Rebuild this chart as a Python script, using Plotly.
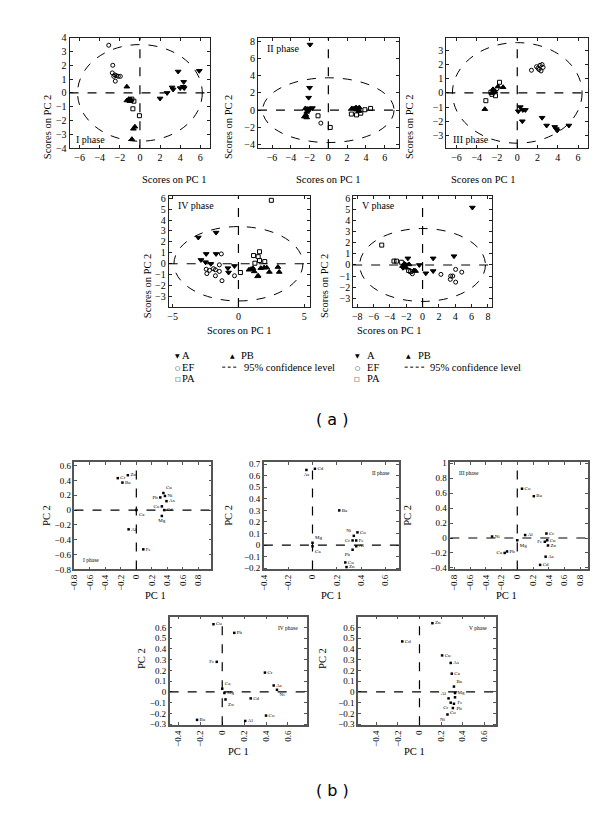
import plotly.graph_objects as go

W, H = 600, 814
SERIF = "Liberation Serif, Times New Roman, DejaVu Serif, serif"

# ---------------- (a) PCA scores per phase: (PC1, PC2) ----------------
ph1_A = [(5.9, 1.6), (3.8, 1.55), (4.35, 0.8), (3.2, 0.4), (3.3, 0.25), (2.7, 0.0),
         (2.0, -0.4), (4.0, 0.35), (4.3, 0.45), (4.4, 0.35)]
ph1_EF = [(-3.1, 3.45), (-2.7, 2.0), (-2.75, 1.45), (-2.6, 1.2), (-2.35, 1.25), (-2.15, 1.2),
          (-1.95, 1.2), (-2.45, 0.85), (-2.5, 1.3)]
ph1_PA = [(-0.7, -1.15), (-0.05, -1.65), (-0.8, -0.45), (-0.6, -0.6), (-1.0, -0.5)]
ph1_PB = [(-1.3, 0.45), (-1.3, -0.55), (-1.1, -0.45), (-0.9, -0.5), (-1.0, -0.6),
          (-0.5, -2.45), (-0.65, -2.6), (-0.8, -3.35)]

ph2_A = [(-1.95, 7.6), (-2.0, 2.6), (-2.1, 1.45), (-1.7, 0.25), (-2.1, 0.2), (-2.0, 0.05)]
ph2_EF = [(-0.8, -1.5)]
ph2_PA = [(-1.1, -0.65), (0.2, -2.0), (2.45, -0.45), (3.0, -0.55), (3.45, -0.35),
          (3.9, 0.05), (4.5, 0.2), (3.25, 0.0)]
ph2_PB = [(-2.45, 0.2), (-2.3, -0.2), (-2.4, -0.55), (-2.55, -0.75), (-2.3, -0.85), (-2.2, 0.1),
          (2.5, 0.2), (2.75, 0.2), (2.95, 0.3), (3.1, 0.2), (3.3, 0.3), (3.0, 0.05), (3.25, -0.1)]

ph3_A = [(0.1, -1.3), (0.3, -1.0), (0.55, -1.2), (0.8, -1.2), (0.5, -2.0), (2.45, -1.75),
         (2.9, -2.3), (3.7, -2.4), (3.85, -2.55), (3.95, -2.65), (5.1, -2.3)]
ph3_EF = [(1.4, 1.6), (1.9, 1.85), (2.05, 1.75), (2.25, 1.95), (2.45, 2.0), (2.55, 1.8),
          (2.35, 1.55), (2.15, 1.65), (-2.0, 0.3)]
ph3_PA = [(-1.75, 0.75), (-3.1, -0.55), (-2.5, -0.1), (-2.3, 0.1), (-2.15, -0.2), (-2.6, 0.05)]
ph3_PB = [(-3.2, -1.15), (-1.9, 0.45), (-1.4, 0.4), (-2.4, 0.25), (-2.5, 0.0), (-2.2, 0.1)]

ph4_A = [(-3.05, 2.4), (-1.7, 2.85), (-2.45, 0.9), (-1.7, 0.9), (-2.85, 0.35), (-2.5, 0.15),
         (-2.1, 0.0), (-0.8, -0.4), (-0.75, -0.8), (-0.3, -0.2)]
ph4_EF = [(-1.3, 0.9), (-2.45, -0.5), (-2.4, -0.9), (-1.9, -0.45), (-1.75, -0.55), (-1.45, -0.1),
          (-1.45, -0.7), (-1.75, -1.1), (-1.25, -1.55), (-0.3, -1.1), (-2.2, -0.6)]
ph4_PA = [(0.15, -0.8), (1.15, 0.75), (1.6, 1.1), (1.5, 0.65), (1.6, 0.3), (2.0, 0.2),
          (1.25, 0.05), (2.5, 5.8)]
ph4_PB = [(0.8, -0.55), (0.95, -0.5), (1.1, -0.4), (1.2, -0.7), (1.5, -1.1), (1.45, -1.15),
          (1.95, -0.35), (2.15, -0.35), (2.35, -0.75), (3.0, -0.3), (3.1, -0.75), (1.7, -0.4)]

ph5_A = [(6.1, 5.2), (-1.8, 0.6), (1.3, 0.6), (3.85, 0.8), (-2.0, 0.05), (-2.3, -0.1),
         (-2.4, -0.25), (-0.4, 0.0), (0.4, -0.75), (1.3, -0.55)]
ph5_EF = [(2.25, -0.85), (3.45, -1.0), (3.7, -1.0), (3.4, -1.3), (4.05, -0.4), (4.05, -1.55),
          (4.8, -0.65), (-1.25, -0.8)]
ph5_PA = [(-5.0, 1.8), (-3.5, 0.35), (-3.2, 0.35), (-2.6, 0.25), (-1.7, -0.5), (-1.45, -0.6)]
ph5_PB = [(-1.65, 0.05), (-2.45, -0.1), (-2.0, -0.25), (-1.05, -0.5), (-0.85, -0.55), (-2.2, 0.1)]

# 95% confidence ellipse half-axes (PC1, PC2)
ellipse_axes = [(6.2, 3.5), (7.0, 3.75), (6.4, 3.55), (4.9, 3.4), (7.7, 3.3)]

# ---------------- (b) loadings: (element, PC1, PC2, label side) ----------------
load1 = [("Zn", -0.11, 0.47, "middle right"), ("Cr", -0.24, 0.43, "middle right"),
         ("Ba", -0.18, 0.37, "middle right"), ("Cu", 0.35, 0.23, "top right"),
         ("Pb", 0.31, 0.17, "middle left"), ("Ni", 0.37, 0.19, "middle right"),
         ("As", 0.39, 0.12, "middle right"), ("Co", 0.33, 0.05, "middle left"),
         ("Cd", 0.36, 0.0, "middle right"), ("Ca", 0.0, 0.0, "bottom right"),
         ("Mg", 0.33, -0.08, "bottom center"), ("Al", -0.1, -0.26, "middle right"),
         ("Fe", 0.09, -0.53, "middle right")]
load2 = [("As", -0.05, 0.65, "bottom center"), ("Cd", 0.02, 0.66, "middle right"),
         ("Ba", 0.22, 0.3, "middle right"), ("Co", 0.37, 0.11, "middle right"),
         ("Ni", 0.34, 0.08, "top left"), ("Cr", 0.33, 0.04, "middle left"),
         ("Fe", 0.36, 0.04, "middle right"), ("Al", 0.36, -0.01, "middle right"),
         ("Pb", 0.33, -0.04, "bottom left"), ("Mg", 0.0, 0.02, "top right"),
         ("Ca", 0.0, -0.01, "bottom right"), ("Cu", 0.27, -0.15, "middle right"),
         ("Zn", 0.28, -0.19, "middle right")]
load3 = [("Co", 0.06, 0.66, "middle right"), ("Ba", 0.21, 0.56, "middle right"),
         ("Ni", -0.32, 0.02, "middle right"), ("Al", 0.1, 0.04, "middle right"),
         ("Cr", 0.37, 0.06, "middle right"), ("Fe", 0.35, -0.05, "middle left"),
         ("Cu", 0.38, -0.03, "middle right"), ("Zn", 0.39, -0.1, "middle right"),
         ("As", 0.36, -0.25, "middle right"), ("Cd", 0.29, -0.36, "middle right"),
         ("Mg", 0.0, -0.03, "bottom right"), ("Ca", -0.16, -0.2, "middle left"),
         ("Pb", -0.13, -0.18, "middle right")]
load4 = [("Cu", -0.08, 0.63, "middle right"), ("Pb", 0.11, 0.55, "middle right"),
         ("Fe", -0.05, 0.28, "middle left"), ("Cr", 0.39, 0.18, "middle right"),
         ("As", 0.47, 0.06, "middle right"), ("Ni", 0.5, 0.02, "bottom right"),
         ("Ca", 0.0, 0.03, "top right"), ("Mg", 0.02, -0.01, "middle right"),
         ("Zn", 0.03, -0.07, "bottom right"), ("Cd", 0.26, -0.06, "middle right"),
         ("Ba", -0.23, -0.26, "middle right"), ("Al", 0.21, -0.27, "middle right"),
         ("Co", 0.4, -0.22, "middle right")]
load5 = [("Zn", 0.12, 0.64, "middle right"), ("Cd", -0.16, 0.47, "middle right"),
         ("Cu", 0.21, 0.34, "middle right"), ("As", 0.29, 0.27, "middle right"),
         ("Ca", 0.3, 0.17, "middle right"), ("Ba", 0.32, 0.05, "top right"),
         ("Mg", 0.33, -0.01, "middle right"), ("Fe", 0.33, -0.05, "bottom right"),
         ("Al", 0.27, -0.06, "top left"), ("Cr", 0.29, -0.1, "bottom left"),
         ("Pb", 0.32, -0.11, "bottom right"), ("Co", 0.31, -0.15, "bottom center"),
         ("Ni", 0.26, -0.21, "bottom left")]

phase_names = ["I phase", "II phase", "III phase", "IV phase", "V phase"]

# axis ranges / ticks
a_xrange = [[-7, 7], [-7.5, 7.5], [-7, 7], [-5.3, 5.4], [-8.5, 8.5]]
a_yrange = [[-4, 4], [-4.4, 8.4], [-3.9, 3.9], [-3.95, 6.15], [-3.8, 6.2]]
a_xticks = [list(range(-6, 7, 2))] * 3 + [[-5, 0, 5], list(range(-8, 9, 2))]
a_yticks = [list(range(-4, 5)), list(range(-4, 9, 2)), list(range(-3, 4)),
            list(range(-3, 7)), list(range(-3, 7))]

b_xrange = [[-0.8, 0.97], [-0.4, 0.71], [-0.85, 0.9], [-0.48, 0.77], [-0.57, 0.71]]
b_yrange = [[-0.8, 0.65], [-0.21, 0.72], [-0.42, 1.02], [-0.31, 0.7], [-0.31, 0.7]]
b_xticks = [[-0.8, -0.6, -0.4, -0.2, 0, 0.2, 0.4, 0.6, 0.8],
            [-0.4, -0.2, 0, 0.2, 0.4, 0.6],
            [-0.8, -0.6, -0.4, -0.2, 0, 0.2, 0.4, 0.6, 0.8],
            [-0.4, -0.2, 0, 0.2, 0.4, 0.6],
            [-0.4, -0.2, 0, 0.2, 0.4, 0.6]]
b_yticks = [[-0.8, -0.6, -0.4, -0.2, 0, 0.2, 0.4, 0.6],
            [-0.2, -0.1, 0, 0.1, 0.2, 0.3, 0.4, 0.5, 0.6, 0.7],
            [-0.4, -0.2, 0, 0.2, 0.4, 0.6, 0.8, 1],
            [-0.3, -0.2, -0.1, 0, 0.1, 0.2, 0.3, 0.4, 0.5, 0.6],
            [-0.3, -0.2, -0.1, 0, 0.1, 0.2, 0.3, 0.4, 0.5, 0.6]]

# pixel boxes of the plot areas (left, top, right, bottom)
a_boxes = [(57, 25, 199, 137), (247, 25, 389, 137), (437, 25, 580, 137),
           (157, 186, 299, 298), (343, 186, 483, 298)]
b_boxes = [(62, 455, 200, 564), (253, 455, 389, 564), (441, 455, 580, 564),
           (158, 612, 296, 722), (348, 612, 487, 722)]
a_phase_pos = [(0.03, 0.08), (0.05, 0.9), (0.03, 0.08), (0.05, 0.92), (0.05, 0.92)]
b_phase_pos = [(0.05, 0.09, "left"), (0.95, 0.9, "right"), (0.05, 0.9, "left"),
               (0.95, 0.9, "right"), (0.95, 0.9, "right")]

scores = [(ph1_A, ph1_EF, ph1_PA, ph1_PB), (ph2_A, ph2_EF, ph2_PA, ph2_PB),
          (ph3_A, ph3_EF, ph3_PA, ph3_PB), (ph4_A, ph4_EF, ph4_PA, ph4_PB),
          (ph5_A, ph5_EF, ph5_PA, ph5_PB)]
loadings = [load1, load2, load3, load4, load5]
group_symbols = ["triangle-down", "circle-open", "square-open", "triangle-up"]
group_sizes = [5, 4, 4, 5]


def fmt(v):
    s = "%g" % round(abs(v), 2)
    return ("\u2212" + s) if v < 0 else s


def px_x(p):
    return p / W


def px_y(p):
    return 1 - p / H


fig = go.Figure()
layout = dict(width=W, height=H, margin=dict(l=0, r=0, t=0, b=0),
              paper_bgcolor="white", plot_bgcolor="white", showlegend=False,
              font=dict(family=SERIF, color="black"))
shapes, annotations = [], []


def add_axes(n, box, xr, yr, xt, yt, fsize, xangle, lcolor, lwidth):
    l, t, r, b = box
    sx = "" if n == 1 else str(n)
    common = dict(showgrid=False, zeroline=False, showline=True, mirror="ticks",
                  linecolor=lcolor, linewidth=lwidth, ticks="inside", ticklen=3,
                  tickcolor=lcolor, tickfont=dict(family=SERIF, size=fsize, color="black"))
    layout["xaxis" + sx] = dict(domain=[px_x(l), px_x(r)], range=xr, anchor="y" + sx,
                                tickvals=xt, ticktext=[fmt(v) for v in xt],
                                tickangle=xangle, **common)
    layout["yaxis" + sx] = dict(domain=[px_y(b), px_y(t)], range=yr, anchor="x" + sx,
                                tickvals=yt, ticktext=[fmt(v) for v in yt], **common)
    # dashed zero lines
    shapes.append(dict(type="line", xref="x" + sx, yref="y" + sx + " domain",
                       x0=0, x1=0, y0=0, y1=1, line=dict(color="black", width=1.2, dash="dash")))
    shapes.append(dict(type="line", xref="x" + sx + " domain", yref="y" + sx,
                       x0=0, x1=1, y0=0, y1=0, line=dict(color="black", width=1.2, dash="dash")))
    return sx


# ---- (a) panels ----
for i in range(5):
    n = i + 1
    sx = add_axes(n, a_boxes[i], a_xrange[i], a_yrange[i], a_xticks[i], a_yticks[i],
                  10, 0, "#222", 1)
    for g, pts in enumerate(scores[i]):
        fig.add_trace(go.Scatter(
            x=[p[0] for p in pts], y=[p[1] for p in pts], mode="markers",
            xaxis="x" + sx, yaxis="y" + sx,
            marker=dict(symbol=group_symbols[g], size=group_sizes[g], color="black",
                        line=dict(color="black", width=1))))
    ea, eb = ellipse_axes[i]
    shapes.append(dict(type="circle", xref="x" + sx, yref="y" + sx,
                       x0=-ea, x1=ea, y0=-eb, y1=eb,
                       line=dict(color="black", width=1, dash="dash")))
    px_, py_ = a_phase_pos[i]
    annotations.append(dict(text=phase_names[i], xref="x" + sx + " domain",
                            yref="y" + sx + " domain", x=px_, y=py_, xanchor="left",
                            yanchor="middle", showarrow=False,
                            font=dict(family=SERIF, size=10)))
    l, t, r, b = a_boxes[i]
    annotations.append(dict(text="Scores on PC 1", xref="paper", yref="paper",
                            x=px_x((l + r) / 2), y=px_y(b + 24), showarrow=False,
                            font=dict(family=SERIF, size=10.5)))
    annotations.append(dict(text="Scores on PC 2", xref="paper", yref="paper",
                            x=px_x(l - 29), y=px_y((t + b) / 2), textangle=-90,
                            showarrow=False, font=dict(family=SERIF, size=10.5)))

# ---- (b) panels ----
for i in range(5):
    n = i + 6
    sx = add_axes(n, b_boxes[i], b_xrange[i], b_yrange[i], b_xticks[i], b_yticks[i],
                  9, -90, "#555", 1.5)
    pts = loadings[i]
    fig.add_trace(go.Scatter(
        x=[p[1] for p in pts], y=[p[2] for p in pts], text=[p[0] for p in pts],
        textposition=[p[3] for p in pts], mode="markers+text",
        xaxis="x" + sx, yaxis="y" + sx, cliponaxis=False,
        marker=dict(symbol="square", size=2.5, color="black"),
        textfont=dict(family=SERIF, size=5, color="black")))
    px_, py_, anc = b_phase_pos[i]
    annotations.append(dict(text=phase_names[i], xref="x" + sx + " domain",
                            yref="y" + sx + " domain", x=px_, y=py_, xanchor=anc,
                            yanchor="middle", showarrow=False,
                            font=dict(family=SERIF, size=5.5)))
    l, t, r, b = b_boxes[i]
    annotations.append(dict(text="PC 1", xref="paper", yref="paper",
                            x=px_x((l + r) / 2), y=px_y(b + 34), showarrow=False,
                            font=dict(family=SERIF, size=10.5)))
    annotations.append(dict(text="PC 2", xref="paper", yref="paper",
                            x=px_x(l - 36), y=px_y((t + b) / 2), textangle=-90,
                            showarrow=False, font=dict(family=SERIF, size=10.5)))

# ---- legends for (a) ----
legend_rows = [("\u25BC", "A"), ("\u25CB", "EF"), ("\u25A1", "PA")]
legend_row_y = [347, 359, 370]
for (sym_x, txt_x, pb_sym_x, pb_txt_x, dash_x0, dash_x1, conf_x) in [
        (161, 168, 221, 228, 211, 226, 231), (347, 355, 399, 406, 395, 415, 418)]:
    for (sym, name), yy in zip(legend_rows, legend_row_y):
        annotations.append(dict(text=sym, xref="paper", yref="paper", x=px_x(sym_x),
                                y=px_y(yy), showarrow=False,
                                font=dict(family="DejaVu Sans", size=6)))
        annotations.append(dict(text=name, xref="paper", yref="paper", x=px_x(txt_x),
                                y=px_y(yy), xanchor="left", showarrow=False,
                                font=dict(family=SERIF, size=10.5)))
    annotations.append(dict(text="\u25B2", xref="paper", yref="paper", x=px_x(pb_sym_x),
                            y=px_y(347), showarrow=False,
                            font=dict(family="DejaVu Sans", size=6)))
    annotations.append(dict(text="PB", xref="paper", yref="paper", x=px_x(pb_txt_x),
                            y=px_y(347), xanchor="left", showarrow=False,
                            font=dict(family=SERIF, size=10.5)))
    shapes.append(dict(type="line", xref="paper", yref="paper",
                       x0=px_x(dash_x0), x1=px_x(dash_x1), y0=px_y(359), y1=px_y(359),
                       line=dict(color="black", width=1, dash="3px,2.5px")))
    annotations.append(dict(text="95% confidence level", xref="paper", yref="paper",
                            x=px_x(conf_x), y=px_y(359), xanchor="left", showarrow=False,
                            font=dict(family=SERIF, size=10.5)))

annotations.append(dict(text="( a )", xref="paper", yref="paper", x=px_x(322), y=px_y(412),
                        showarrow=False, font=dict(family="DejaVu Sans", size=16)))
annotations.append(dict(text="( b )", xref="paper", yref="paper", x=px_x(322), y=px_y(800),
                        showarrow=False, font=dict(family="DejaVu Sans", size=16)))

layout["shapes"] = shapes
layout["annotations"] = annotations
fig.update_layout(**layout)
fig.write_html("out.html")
